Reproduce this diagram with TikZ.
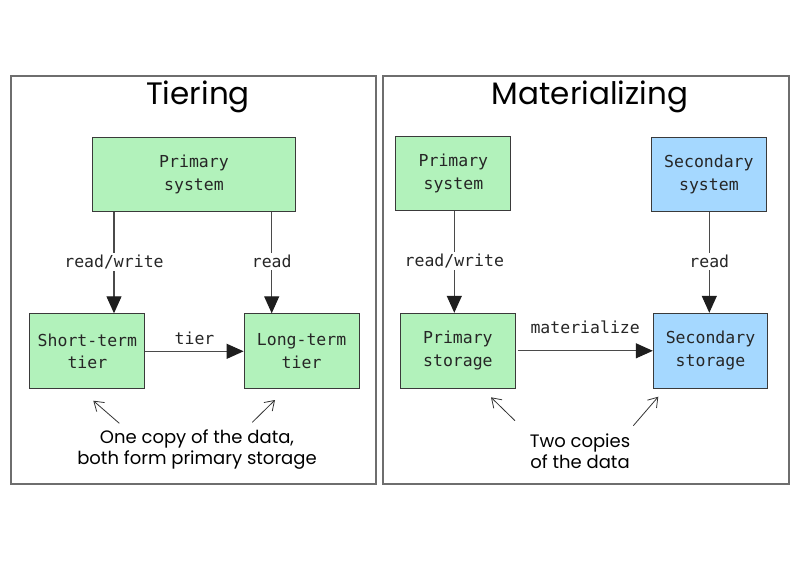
\documentclass[tikz,border=0pt]{standalone}
\usepackage{fontspec}
\setmainfont{Poppins}
\newfontfamily\monofont{DejaVu Sans Mono}
\usetikzlibrary{arrows.meta,calc}
\definecolor{gfill}{HTML}{B2F2BB}
\definecolor{bfill}{HTML}{A5D8FF}
\definecolor{edge}{HTML}{3A3A3A}
\definecolor{frame}{HTML}{6E6E6E}
\definecolor{conn}{HTML}{4A4A4A}
\definecolor{tipc}{HTML}{1E1E1E}
\tikzset{
  box/.style={draw=edge, line width=1pt, align=center, inner sep=0pt,
    font=\monofont\fontsize{16.5}{22.7}\selectfont, text=black!85},
  green/.style={box, fill=gfill},
  blue/.style={box, fill=bfill},
  panel/.style={draw=frame, line width=1.2pt},
  title/.style={font=\fontsize{31}{33}\selectfont},
  note/.style={font=\fontsize{18}{23}\selectfont, align=center},
  lbl/.style={font=\monofont\fontsize{16.5}{20}\selectfont, fill=white, inner sep=2pt, text=black!85},
  arr/.style={draw=conn, line width=1.1pt, -{Triangle[length=17pt,width=15pt,color=tipc,fill=tipc]}},
  hand/.style={draw=black!80, line width=0.8pt, -{Straight Barb[length=9pt,width=12pt]}},
}
\begin{document}
\begin{tikzpicture}[x=1pt,y=-1pt]
\useasboundingbox (0,0) rectangle (800,560);
\fill[white] (0,0) rectangle (800,560);
% panels
\draw[panel] (11,76) rectangle (376,484);
\draw[panel] (383,76) rectangle (789,484);
\node[title] (t1) at (198,97) {Tiering};
\node[title] (t2) at (590,97) {Materializing};
% left panel
\node[green, minimum width=203pt, minimum height=74pt] (ps) at (194,174.5) {Primary\\system};
\node[green, minimum width=115pt, minimum height=75pt] (st) at (87.4,351.3) {Short-term\\tier};
\node[green, minimum width=115pt, minimum height=75pt] (lt) at (301.6,351.3) {Long-term\\tier};
\coordinate (ax1) at (114,0);
\coordinate (ax2) at (271.7,0);
\draw[arr] (ps.south -| ax1) -- (st.north -| ax1) node[lbl, pos=0.49] (rw1) {read/write};
\draw[arr] (ps.south -| ax2) -- (lt.north -| ax2) node[lbl, pos=0.49] (r1) {read};
\draw[arr] (st.east) -- (lt.west) node[lbl, fill=none, midway, yshift=13pt] (tl) {tier};
\node[note] (n1) at (197,450) {One copy of the data,\\[-2pt]both form primary storage};
\coordinate (h1a) at (119.3,423.3);
\coordinate (h1b) at (93.3,400.7);
\coordinate (h2a) at (252.3,422.3);
\coordinate (h2b) at (275,400);
\draw[hand] (h1a) -- (h1b);
\draw[hand] (h2a) -- (h2b);
% right panel
\node[green, minimum width=115pt, minimum height=73.5pt] (ps2) at (453.4,173.4) {Primary\\system};
\node[blue, minimum width=115.7pt, minimum height=74.4pt] (ss) at (708.9,174.5) {Secondary\\system};
\node[green, minimum width=114.3pt, minimum height=75pt] (pst) at (457.9,350.8) {Primary\\storage};
\node[blue, minimum width=114.4pt, minimum height=75pt] (sst) at (710.5,350.8) {Secondary\\storage};
\coordinate (bx1) at (454.3,0);
\coordinate (bx2) at (709.3,0);
\draw[arr] (ps2.south -| bx1) -- (pst.north -| bx1) node[lbl, pos=0.49] (rw2) {read/write};
\draw[arr] (ss.south -| bx2) -- (sst.north -| bx2) node[lbl, pos=0.49] (r2) {read};
\draw[arr] ([xshift=2pt]pst.east) -- (sst.west) node[lbl, fill=none, midway, yshift=24pt] (ml) {materialize};
\node[note] (n2) at (580,451) {Two copies\\[-2pt]of the data};
\coordinate (h3a) at (515,420.7);
\coordinate (h3b) at (491,397.3);
\coordinate (h4a) at (633.3,425.7);
\coordinate (h4b) at (658.3,396.7);
\draw[hand] (h3a) -- (h3b);
\draw[hand] (h4a) -- (h4b);
\end{tikzpicture}
\end{document}
